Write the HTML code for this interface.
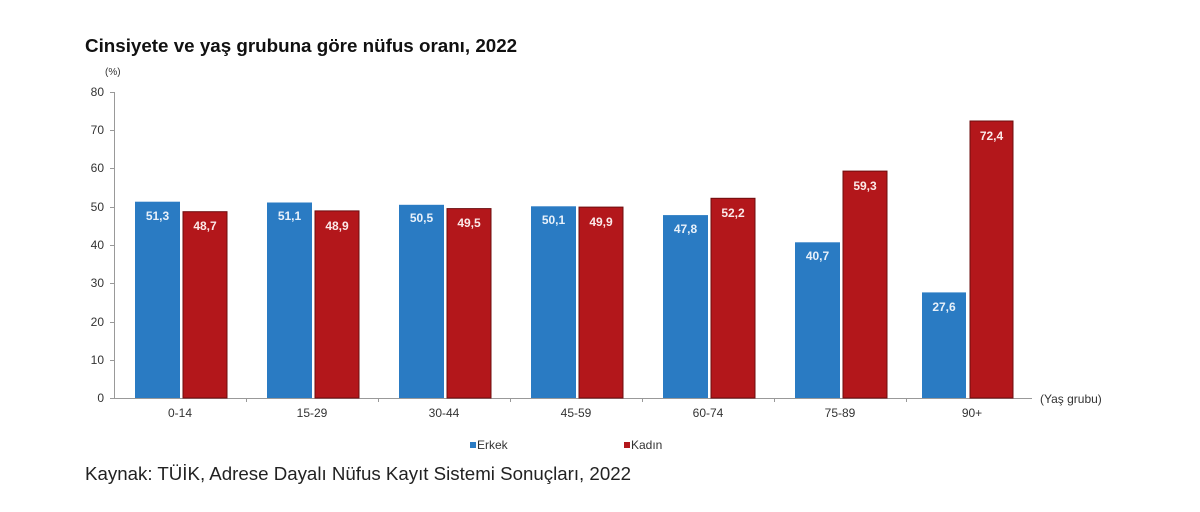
<!DOCTYPE html>
<html><head><meta charset="utf-8"><style>body{margin:0;background:#fff}</style></head><body>
<svg width="1200" height="507" xmlns="http://www.w3.org/2000/svg" font-family="Liberation Sans, Arial, sans-serif">
<rect width="1200" height="507" fill="#fff"/>
<text x="85" y="52" font-size="18.8" font-weight="bold" fill="#111">Cinsiyete ve yaş grubuna göre nüfus oranı, 2022</text>
<text x="105" y="75" font-size="10" fill="#333">(%)</text>
<g font-size="12" fill="#333" text-anchor="end">
<text x="104" y="402">0</text><text x="104" y="364">10</text><text x="104" y="326">20</text><text x="104" y="287">30</text><text x="104" y="249">40</text><text x="104" y="211">50</text><text x="104" y="172">60</text><text x="104" y="134">70</text><text x="104" y="96">80</text>
</g>
<g stroke="#999" stroke-width="1">
<line x1="114.5" y1="92" x2="114.5" y2="398"/>
<line x1="110" y1="398.5" x2="1032" y2="398.5"/>
<line x1="110" y1="92.5" x2="114" y2="92.5"/>
<line x1="110" y1="130.5" x2="114" y2="130.5"/><line x1="110" y1="168.5" x2="114" y2="168.5"/><line x1="110" y1="207.5" x2="114" y2="207.5"/><line x1="110" y1="245.5" x2="114" y2="245.5"/><line x1="110" y1="283.5" x2="114" y2="283.5"/><line x1="110" y1="322.5" x2="114" y2="322.5"/><line x1="110" y1="360.5" x2="114" y2="360.5"/>
<line x1="246.5" y1="398" x2="246.5" y2="402"/><line x1="378.5" y1="398" x2="378.5" y2="402"/><line x1="510.5" y1="398" x2="510.5" y2="402"/><line x1="642.5" y1="398" x2="642.5" y2="402"/><line x1="774.5" y1="398" x2="774.5" y2="402"/><line x1="906.5" y1="398" x2="906.5" y2="402"/>
</g>
<g font-size="12" font-weight="bold" text-anchor="middle">
<rect x="135" y="201.7" width="45" height="196.3" fill="#2a7bc3"/><text x="157.5" y="220" fill="#e8f1fa">51,3</text>
<rect x="183" y="211.7" width="44" height="186.3" fill="#b3171b" stroke="#6d0c0e" stroke-width="1"/><text x="205" y="230" fill="#fbe9e9">48,7</text>
<rect x="267" y="202.5" width="45" height="195.5" fill="#2a7bc3"/><text x="289.5" y="220" fill="#e8f1fa">51,1</text>
<rect x="315" y="210.9" width="44" height="187.1" fill="#b3171b" stroke="#6d0c0e" stroke-width="1"/><text x="337" y="230" fill="#fbe9e9">48,9</text>
<rect x="399" y="204.8" width="45" height="193.2" fill="#2a7bc3"/><text x="421.5" y="222" fill="#e8f1fa">50,5</text>
<rect x="447" y="208.6" width="44" height="189.4" fill="#b3171b" stroke="#6d0c0e" stroke-width="1"/><text x="469" y="227" fill="#fbe9e9">49,5</text>
<rect x="531" y="206.3" width="45" height="191.7" fill="#2a7bc3"/><text x="553.5" y="224" fill="#e8f1fa">50,1</text>
<rect x="579" y="207.1" width="44" height="190.9" fill="#b3171b" stroke="#6d0c0e" stroke-width="1"/><text x="601" y="226" fill="#fbe9e9">49,9</text>
<rect x="663" y="215.1" width="45" height="182.9" fill="#2a7bc3"/><text x="685.5" y="233" fill="#e8f1fa">47,8</text>
<rect x="711" y="198.3" width="44" height="199.7" fill="#b3171b" stroke="#6d0c0e" stroke-width="1"/><text x="733" y="217" fill="#fbe9e9">52,2</text>
<rect x="795" y="242.3" width="45" height="155.7" fill="#2a7bc3"/><text x="817.5" y="260" fill="#e8f1fa">40,7</text>
<rect x="843" y="171.1" width="44" height="226.9" fill="#b3171b" stroke="#6d0c0e" stroke-width="1"/><text x="865" y="190" fill="#fbe9e9">59,3</text>
<rect x="922" y="292.4" width="44" height="105.6" fill="#2a7bc3"/><text x="944" y="311" fill="#e8f1fa">27,6</text>
<rect x="970" y="121" width="43" height="277" fill="#b3171b" stroke="#6d0c0e" stroke-width="1"/><text x="991.5" y="140" fill="#fbe9e9">72,4</text>
</g>
<g font-size="12" fill="#333" text-anchor="middle">
<text x="180" y="417">0-14</text><text x="312" y="417">15-29</text><text x="444" y="417">30-44</text><text x="576" y="417">45-59</text><text x="708" y="417">60-74</text><text x="840" y="417">75-89</text><text x="972" y="417">90+</text>
</g>
<text x="1040" y="403" font-size="12" fill="#333">(Yaş grubu)</text>
<rect x="470" y="442" width="6" height="6" fill="#2a7bc3"/><text x="477" y="449" font-size="12" fill="#333">Erkek</text>
<rect x="624" y="442" width="6" height="6" fill="#b3171b"/><text x="631" y="449" font-size="12" fill="#333">Kadın</text>
<text x="85" y="480" font-size="18.7" fill="#222">Kaynak: TÜİK, Adrese Dayalı Nüfus Kayıt Sistemi Sonuçları, 2022</text>
</svg>
</body></html>
